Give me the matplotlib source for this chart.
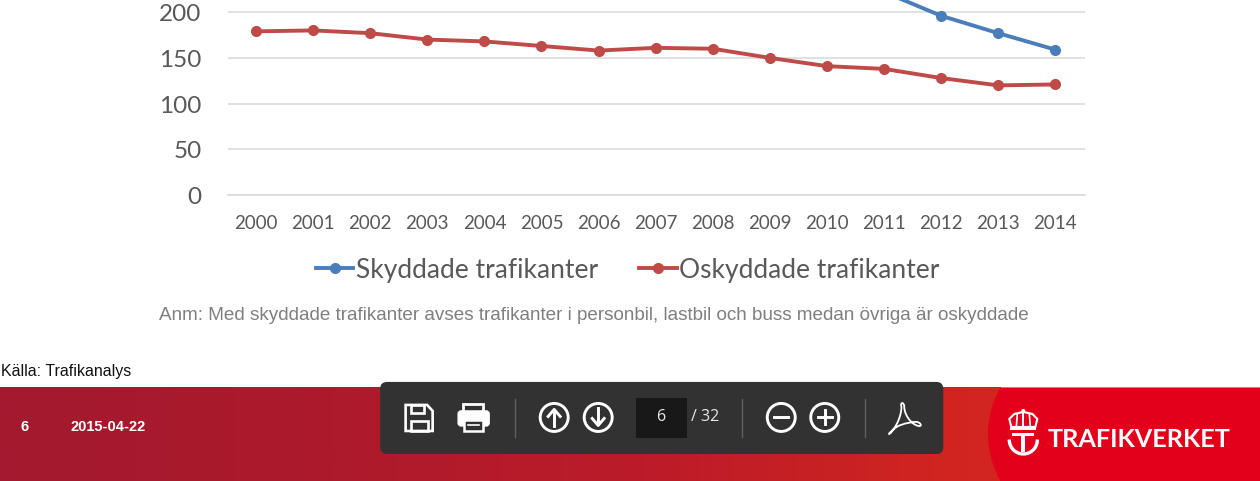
import numpy as np
import matplotlib
matplotlib.use("Agg")
import matplotlib.pyplot as plt
from matplotlib.colors import LinearSegmentedColormap
from matplotlib.patches import FancyBboxPatch, Circle, Rectangle, Polygon, PathPatch
from matplotlib.path import Path

years = list(range(2000, 2015))
skyddade = [np.nan]*11 + [222, 196, 177, 159]
oskyddade = [179, 180, 177, 170, 168, 163, 158, 161, 160, 150, 141, 138, 128, 120, 121]
yticks = [0, 50, 100, 150, 200]
note = "Anm: Med skyddade trafikanter avses trafikanter i personbil, lastbil och buss medan övriga är oskyddade"
source = "Källa: Trafikanalys"

W, H = 1260, 481
fig = plt.figure(figsize=((W+0.4)/100, (H+0.4)/100), dpi=100, facecolor="white")

# chart axes
ax = fig.add_axes([228/W, 1-195.5/H, (1085-228)/W, 195.5/H])
ax.set_xlim(1999.51, 2014.526)
ax.set_ylim(0, 195.5/0.915)
ax.patch.set_alpha(0)
ax.plot(years, skyddade, color="#4a7ebb", lw=2.8, marker="o", ms=7, label="Skyddade trafikanter", zorder=3)
ax.plot(years, oskyddade, color="#be4b48", lw=2.8, marker="o", ms=7, label="Oskyddade trafikanter", zorder=3)
ax.set_yticks(yticks)
ax.set_xticks(years)
ax.grid(axis="y", color="#d9d9d9", lw=1.1)
ax.set_axisbelow(True)
for s in ["top", "left", "right"]:
    ax.spines[s].set_visible(False)
ax.spines["bottom"].set_color("#d9d9d9")
ax.spines["bottom"].set_linewidth(1.1)
ax.tick_params(axis="both", length=0)
ax.tick_params(axis="y", labelsize=17.5, labelcolor="#595959", pad=19)
ax.tick_params(axis="x", labelsize=13.5, labelcolor="#595959", pad=14)
for l in ax.get_xticklabels() + ax.get_yticklabels():
    l.set_family("Lato")
leg = ax.legend(loc="center", bbox_to_anchor=((627.5-228)/857, -74.5/195.5), ncol=2, frameon=False,
                prop={"family": "Lato", "size": 19}, labelcolor="#595959",
                handlelength=1.43, handletextpad=0.08, columnspacing=1.58, borderpad=0, borderaxespad=0)

# overlay in pixel coordinates
ov = fig.add_axes([0, 0, 1, 1], zorder=5)
ov.set_xlim(0, W)
ov.set_ylim(H, 0)
ov.axis("off")
ov.patch.set_alpha(0)

ov.text(159, 315.5, note, family="Liberation Sans", fontsize=13.6, color="#7f7f7f", va="center", ha="left")
ov.text(1, 371, source, family="Liberation Sans", fontsize=11.5, color="#111111", va="center", ha="left")

# footer gradient
cmap = LinearSegmentedColormap.from_list("f", ["#a3192e", "#ad1a2c", "#bd1c28", "#d4261f"])
ov.imshow(np.linspace(0, 1, 512)[None, :], extent=(0, 1000, 481, 387.5), cmap=cmap, aspect="auto", zorder=1)
ov.set_xlim(0, W)
ov.set_ylim(H, 0)
ov.text(20, 427, "6", family="Liberation Sans", fontsize=10.5, weight="bold", color="white", va="center", zorder=3)
ov.text(70, 427, "2015-04-22", family="Liberation Sans", fontsize=10.5, weight="bold", color="white", va="center", zorder=3)

# logo panel
verts = [(1000, 387.5), (1260, 387.5), (1260, 481), (1000, 481), (1000, 481), (975, 434), (1000, 387.5)]
codes = [Path.MOVETO, Path.LINETO, Path.LINETO, Path.LINETO, Path.LINETO, Path.CURVE3, Path.CURVE3]
ov.add_patch(PathPatch(Path(verts, codes), fc="#e2001a", ec="none", zorder=2))
ov.text(1047, 439, "TRAFIKVERKET", family="Lato", fontsize=18.2, weight="bold", color="white", va="center", ha="left", zorder=4)
# crown + T emblem
ov.add_patch(Polygon([(1011, 427), (1009, 419), (1014, 414), (1023, 412), (1032, 414), (1037, 419), (1035, 427)],
                     fc="none", ec="white", lw=1.5, zorder=4))
ov.add_patch(Rectangle((1022, 410), 2, 18, fc="white", ec="none", zorder=4))
ov.plot([1017, 1016], [414, 427], color="white", lw=1.2, zorder=4)
ov.plot([1029, 1030], [414, 427], color="white", lw=1.2, zorder=4)
ov.add_patch(Rectangle((1010, 427), 26, 3, fc="white", ec="none", zorder=4))
ov.add_patch(Circle((1023, 411), 2, fc="white", ec="none", zorder=4))
ov.add_patch(Rectangle((1012, 433), 22, 3.5, fc="white", ec="none", zorder=4))
ov.add_patch(Rectangle((1021, 433), 4, 19, fc="white", ec="none", zorder=4))
t = np.radians(np.linspace(5, 175, 30))
ov.plot(1023 + 14*np.cos(t), 440 + 14*np.sin(t), color="white", lw=2.4, zorder=4)

# toolbar
ov.add_patch(FancyBboxPatch((380, 382), 563, 72, boxstyle="round,pad=0,rounding_size=7", fc="#323232", ec="none", zorder=5))
ov.add_patch(Rectangle((636, 398), 51, 40, fc="#181818", ec="none", zorder=6))
ov.text(660, 417, "6", family="Open Sans", fontsize=11.5, color="#e8e8e8", ha="center", va="center", zorder=7)
ov.text(691, 417, "/ 32", family="Open Sans", fontsize=11.5, color="#e8e8e8", ha="left", va="center", zorder=7)
for x in [514.5, 742, 864.5]:
    ov.plot([x, x], [399, 437], color="#5f5f5f", lw=1, zorder=6)

ink = dict(fc="none", ec="white", lw=1.9, zorder=7)
# save icon
ov.add_patch(Polygon([(405.5, 405), (427, 405), (432.5, 411), (432.5, 431), (405.5, 431)], closed=True, **ink))
ov.add_patch(Rectangle((411, 405), 13, 8, **ink))
ov.add_patch(Rectangle((410.5, 421), 17, 10, **ink))
# printer icon
ov.add_patch(Rectangle((463, 404), 20, 8, fc="none", ec="white", lw=2, zorder=7))
ov.add_patch(FancyBboxPatch((458, 411), 31, 15, boxstyle="round,pad=0,rounding_size=3", fc="white", ec="white", lw=1, zorder=7))
ov.add_patch(Rectangle((464, 420), 19, 11, fc="#323232", ec="white", lw=1.8, zorder=8))
ov.plot([468, 479], [425, 425], color="white", lw=1.2, zorder=9)
# round buttons
for cx, kind in [(554, "up"), (598, "down"), (781, "minus"), (824.5, "plus")]:
    ov.add_patch(Circle((cx, 417.5), 14, fc="none", ec="white", lw=2.1, zorder=7))
    if kind == "up":
        ov.plot([cx, cx], [410.5, 426.5], color="white", lw=2.1, zorder=7)
        ov.plot([cx-6, cx, cx+6], [416.5, 409.5, 416.5], color="white", lw=2.1, zorder=7)
    elif kind == "down":
        ov.plot([cx, cx], [408.5, 424.5], color="white", lw=2.1, zorder=7)
        ov.plot([cx-6, cx, cx+6], [418.5, 425.5, 418.5], color="white", lw=2.1, zorder=7)
    else:
        ov.plot([cx-7, cx+7], [417.5, 417.5], color="white", lw=2.1, zorder=7)
        if kind == "plus":
            ov.plot([cx, cx], [410.5, 424.5], color="white", lw=2.1, zorder=7)
# pdf icon
pv = [(889, 433),
      (897, 428), (902, 412), (901, 406),
      (900, 402), (904, 402), (904, 407),
      (904, 414), (910, 424), (918, 426),
      (923, 427), (920, 421), (914, 422),
      (906, 423), (896, 425), (892, 431),
      (890, 434), (888, 435), (889, 433)]
pc = [Path.MOVETO] + [Path.CURVE4]*18
ov.add_patch(PathPatch(Path(pv, pc), fc="none", ec="white", lw=1.3, zorder=7))

fig.savefig("out.png", dpi=100)
